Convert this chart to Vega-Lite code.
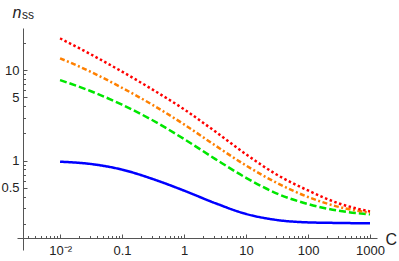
{
  "$schema": "https://vega.github.io/schema/vega-lite/v6.json",
  "width": 360,
  "height": 222,
  "autosize": "none",
  "padding": {"left": 17, "top": 28, "right": 22, "bottom": 11},
  "config": {"view": {"stroke": null}, "font": "Liberation Sans"},
  "datasets": {
    "curves": [
      {"C": 0.01, "n": 0.975, "s": "blue"},
      {"C": 0.0316, "n": 0.919, "s": "blue"},
      {"C": 0.1, "n": 0.797, "s": "blue"},
      {"C": 0.316, "n": 0.626, "s": "blue"},
      {"C": 1, "n": 0.467, "s": "blue"},
      {"C": 3.16, "n": 0.34, "s": "blue"},
      {"C": 10, "n": 0.258, "s": "blue"},
      {"C": 31.6, "n": 0.221, "s": "blue"},
      {"C": 100, "n": 0.208, "s": "blue"},
      {"C": 316, "n": 0.205, "s": "blue"},
      {"C": 1000, "n": 0.203, "s": "blue"},
      {"C": 0.01, "n": 7.79, "s": "green"},
      {"C": 0.0316, "n": 5.86, "s": "green"},
      {"C": 0.1, "n": 4.16, "s": "green"},
      {"C": 0.316, "n": 2.78, "s": "green"},
      {"C": 1, "n": 1.737, "s": "green"},
      {"C": 3.16, "n": 1.049, "s": "green"},
      {"C": 10, "n": 0.647, "s": "green"},
      {"C": 31.6, "n": 0.433, "s": "green"},
      {"C": 100, "n": 0.332, "s": "green"},
      {"C": 316, "n": 0.2795, "s": "green"},
      {"C": 1000, "n": 0.2557, "s": "green"},
      {"C": 0.01, "n": 13.54, "s": "orange"},
      {"C": 0.0316, "n": 9.58, "s": "orange"},
      {"C": 0.1, "n": 6.39, "s": "orange"},
      {"C": 0.316, "n": 4.11, "s": "orange"},
      {"C": 1, "n": 2.52, "s": "orange"},
      {"C": 3.16, "n": 1.48, "s": "orange"},
      {"C": 10, "n": 0.885, "s": "orange"},
      {"C": 31.6, "n": 0.567, "s": "orange"},
      {"C": 100, "n": 0.397, "s": "orange"},
      {"C": 316, "n": 0.308, "s": "orange"},
      {"C": 1000, "n": 0.266, "s": "orange"},
      {"C": 0.01, "n": 22.5, "s": "red"},
      {"C": 0.0316, "n": 14.95, "s": "red"},
      {"C": 0.1, "n": 9.65, "s": "red"},
      {"C": 0.316, "n": 6.07, "s": "red"},
      {"C": 1, "n": 3.7, "s": "red"},
      {"C": 3.16, "n": 2.11, "s": "red"},
      {"C": 10, "n": 1.177, "s": "red"},
      {"C": 31.6, "n": 0.699, "s": "red"},
      {"C": 100, "n": 0.469, "s": "red"},
      {"C": 316, "n": 0.3366, "s": "red"},
      {"C": 1000, "n": 0.2747, "s": "red"}
    ]
  },
  "resolve": {"axis": {"x": "independent", "y": "independent"}},
  "layer": [
    {
      "data": {"name": "curves"},
      "mark": {"type": "line", "interpolate": "monotone", "strokeWidth": 2.5, "strokeCap": "butt", "clip": false},
      "encoding": {
        "x": {
          "field": "C", "type": "quantitative",
          "scale": {"type": "log", "domain": [0.00202, 1297], "nice": false},
          "axis": {
            "orient": "bottom", "offset": -12, "values": [0.01, 0.1, 1, 10, 100, 1000],
            "labelExpr": "datum.value == 0.01 ? '10⁻²' : format(datum.value, '~g')",
            "grid": false, "domainColor": "#555", "tickColor": "#555", "tickSize": -4,
            "labelPadding": 10, "labelFontSize": 13, "labelColor": "#222", "labelFlush": false,
            "title": "C", "titleFontSize": 16, "titleFontWeight": "normal", "titleColor": "#222",
            "titleX": 368, "titleY": 1, "titleAlign": "left", "titleBaseline": "middle", "titleAnchor": null
          }
        },
        "y": {
          "field": "n", "type": "quantitative",
          "scale": {"type": "log", "domain": [0.103, 29.3], "nice": false},
          "axis": {
            "orient": "left", "offset": -6, "values": [0.5, 1, 5, 10],
            "format": "~g",
            "grid": false, "domainColor": "#555", "tickColor": "#555", "tickSize": -4,
            "labelPadding": 8, "labelFontSize": 13, "labelColor": "#222", "labelFlush": false,
            "title": "n", "titleFontSize": 16, "titleFontStyle": "italic", "titleFontWeight": "normal", "titleColor": "#222",
            "titleAngle": 0, "titleX": -11, "titleY": -11, "titleAlign": "left", "titleBaseline": "alphabetic", "titleAnchor": null
          }
        },
        "color": {
          "field": "s", "type": "nominal", "legend": null,
          "scale": {"domain": ["blue", "green", "orange", "red"], "range": ["#0000ff", "#00e600", "#ff8000", "#ff0000"]}
        },
        "strokeDash": {
          "field": "s", "type": "nominal", "legend": null,
          "scale": {"domain": ["blue", "green", "orange", "red"], "range": [[1, 0], [7, 3], [5, 2.5, 2, 2.5], [2.5, 2.5]]}
        }
      }
    },
    {
      "data": {"values": [{"label": "ss"}]},
      "mark": {"type": "text", "align": "left", "baseline": "alphabetic", "fontSize": 12, "color": "#222", "clip": false},
      "encoding": {
        "text": {"field": "label"},
        "x": {
          "datum": 0.00244, "type": "quantitative",
          "axis": {
            "orient": "bottom", "offset": -12, "title": null, "labels": false, "domain": false, "grid": false,
            "tickColor": "#555", "tickSize": -2.5,
            "values": [0.003, 0.004, 0.005, 0.006, 0.007, 0.008, 0.009, 0.02, 0.03, 0.04, 0.05, 0.06, 0.07, 0.08, 0.09, 0.2, 0.3, 0.4, 0.5, 0.6, 0.7, 0.8, 0.9, 2, 3, 4, 5, 6, 7, 8, 9, 20, 30, 40, 50, 60, 70, 80, 90, 200, 300, 400, 500, 600, 700, 800, 900]
          }
        },
        "y": {
          "datum": 37.3, "type": "quantitative",
          "axis": {
            "orient": "left", "offset": -6, "title": null, "labels": false, "domain": false, "grid": false,
            "tickColor": "#555", "tickSize": -2.5,
            "values": [0.2, 0.3, 0.4, 0.6, 0.7, 0.8, 0.9, 2, 3, 4, 6, 7, 8, 9, 20]
          }
        }
      }
    }
  ]
}
